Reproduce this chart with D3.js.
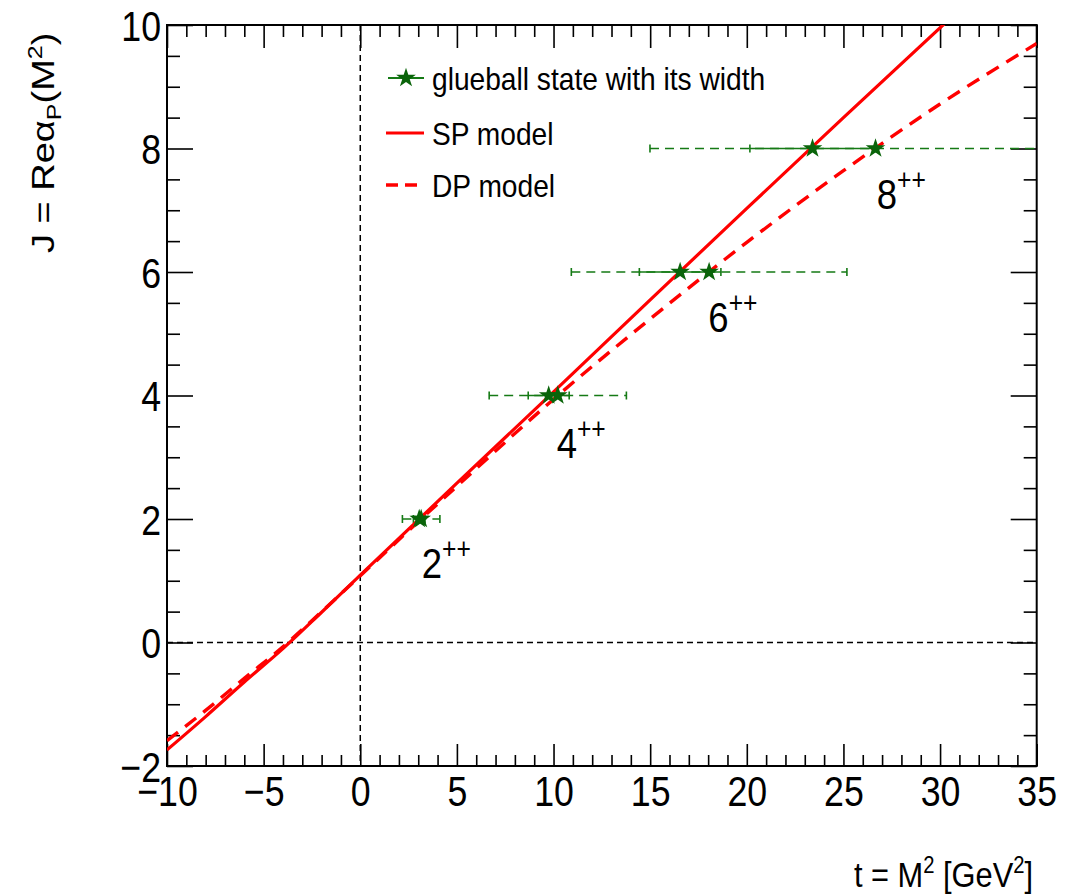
<!DOCTYPE html>
<html><head><meta charset="utf-8">
<script src="https://cdn.jsdelivr.net/npm/d3@7"></script>
<style>body{margin:0;background:#fff} text{font-family:"Liberation Sans",Arial,Helvetica,sans-serif;fill:#000}</style>
</head><body><svg id="c" width="1086" height="895"></svg>
<script>
// ---- data ----
const xMajor = [-10,-5,0,5,10,15,20,25,30,35];
const yMajor = [-2,0,2,4,6,8,10];
const spT = [-10,-8,-6,-4,-2,0,5,10,15,20,25,30.5];
const spJ = [-1.74,-1.2,-0.64,-0.1,0.49,1.09,2.58,4.06,5.55,7.03,8.5,10.1];
const dpT = [-10,-8,-6,-4,-2,0,3.15,5,10,15,20,25,30,35];
const dpJ = [-1.59,-1.1,-0.58,-0.07,0.5,1.08,2.0,2.53,3.94,5.24,6.48,7.64,8.72,9.7];
const states = ["2","4","6","8"];
const stateJ = [2,4,6,8];
const spStarT = [3.05,9.75,16.55,23.4];
const spHalfWidth = [0.3,1.06,2.11,3.24];
const dpStarT = [3.15,10.22,18.05,26.66];
const dpHalfWidth = [0.97,3.55,7.13,11.67];
const labelT = [3.18,10.16,18.01,26.72];
const labelJ = [1.04,2.99,5.03,7.02];

// ---- layout ----
const L=167, R=1036.7, T=25, B=766;
const svg = d3.select("#c");
const x = d3.scaleLinear([-10,35],[L,R]);
const y = d3.scaleLinear([-2,10],[B,T]);
const RED="#ff0000", GREEN="#157a15", STAR="#0a640a";
const SX=0.85;

svg.append("defs").append("clipPath").attr("id","clip")
  .append("rect").attr("x",L).attr("y",T).attr("width",R-L).attr("height",B-T);

// reference dashed lines
svg.append("line").attr("x1",x(0)).attr("x2",x(0)).attr("y1",T).attr("y2",B)
  .attr("stroke","#000").attr("stroke-width",1.5).attr("stroke-dasharray","6,4");
svg.append("line").attr("x1",L).attr("x2",R).attr("y1",y(0)).attr("y2",y(0))
  .attr("stroke","#000").attr("stroke-width",1.5).attr("stroke-dasharray","6,4");

// axes ticks
const xMinor = d3.range(-10,35.001,1).filter(v=>v%5!==0);
const yMinor = d3.range(-2,10.001,0.5).filter(v=>v%2!==0);
function styleAxis(g){ g.select(".domain").remove(); g.selectAll("line").attr("stroke","#000").attr("stroke-width",1.6); }

svg.append("g").attr("transform",`translate(0,${B})`)
  .call(d3.axisBottom(x).tickValues(xMinor).tickSizeInner(-11).tickSizeOuter(0).tickFormat("")).call(styleAxis);
const xa = svg.append("g").attr("transform",`translate(0,${B})`)
  .call(d3.axisBottom(x).tickValues(xMajor).tickSizeInner(-22).tickSizeOuter(0).tickPadding(10)).call(styleAxis);
xa.selectAll("text").attr("font-size",42).attr("font-family","Liberation Sans, Arial, sans-serif")
  .attr("transform",`scale(${SX},1)`);

svg.append("g").attr("transform",`translate(0,${T})`)
  .call(d3.axisTop(x).tickValues(xMinor).tickSizeInner(-12).tickSizeOuter(0).tickFormat("")).call(styleAxis);
svg.append("g").attr("transform",`translate(0,${T})`)
  .call(d3.axisTop(x).tickValues(xMajor).tickSizeInner(-23).tickSizeOuter(0).tickFormat("")).call(styleAxis);

svg.append("g").attr("transform",`translate(${L},0)`)
  .call(d3.axisLeft(y).tickValues(yMinor).tickSizeInner(-13).tickSizeOuter(0).tickFormat("")).call(styleAxis);
const ya = svg.append("g").attr("transform",`translate(${L},0)`)
  .call(d3.axisLeft(y).tickValues(yMajor).tickSizeInner(-26).tickSizeOuter(0).tickPadding(0)).call(styleAxis);
ya.selectAll("text").attr("font-size",42).attr("font-family","Liberation Sans, Arial, sans-serif")
  .attr("x",-6/SX).attr("dy","0.36em").attr("transform",`scale(${SX},1)`);

svg.append("g").attr("transform",`translate(${R},0)`)
  .call(d3.axisRight(y).tickValues(yMinor).tickSizeInner(-13).tickSizeOuter(0).tickFormat("")).call(styleAxis);
svg.append("g").attr("transform",`translate(${R},0)`)
  .call(d3.axisRight(y).tickValues(yMajor).tickSizeInner(-26).tickSizeOuter(0).tickFormat("")).call(styleAxis);

// frame
svg.append("rect").attr("x",L).attr("y",T).attr("width",R-L).attr("height",B-T)
  .attr("fill","none").attr("stroke","#000").attr("stroke-width",2);

const plot = svg.append("g").attr("clip-path","url(#clip)");

// error bars
function errBar(t, hw, j, dashed){
  const g = plot.append("g").attr("stroke",GREEN).attr("stroke-width",1.6);
  g.append("line").attr("x1",x(t-hw)).attr("x2",x(t+hw)).attr("y1",y(j)).attr("y2",y(j))
    .attr("stroke-dasharray",dashed?"9,6":null);
  [t-hw,t+hw].forEach(v=>g.append("line").attr("x1",x(v)).attr("x2",x(v)).attr("y1",y(j)-4).attr("y2",y(j)+4));
}
stateJ.forEach((j,i)=>{ errBar(dpStarT[i],dpHalfWidth[i],j,true); });
stateJ.forEach((j,i)=>{ errBar(spStarT[i],spHalfWidth[i],j,false); });

// model curves
const line = d3.line().x(d=>x(d[0])).y(d=>y(d[1])).curve(d3.curveMonotoneX);
plot.append("path").datum(dpT.map((t,i)=>[t,dpJ[i]])).attr("d",line)
  .attr("fill","none").attr("stroke",RED).attr("stroke-width",3.4).attr("stroke-dasharray","14,9");
plot.append("path").datum(spT.map((t,i)=>[t,spJ[i]])).attr("d",line)
  .attr("fill","none").attr("stroke",RED).attr("stroke-width",3.2);

// stars
const star = d3.symbol(d3.symbolStar, 120);
stateJ.forEach((j,i)=>{
  [spStarT[i],dpStarT[i]].forEach(t=>{
    plot.append("path").attr("d",star()).attr("transform",`translate(${x(t)},${y(j)})`).attr("fill",STAR);
  });
});

// state labels
states.forEach((s,i)=>{
  const tx = svg.append("text").attr("transform",`translate(${x(labelT[i])},${y(labelJ[i])}) scale(${SX},1)`)
    .attr("font-size",43);
  tx.append("tspan").text(s);
  tx.append("tspan").attr("font-size",29).attr("dy",-19).text("++");
});

// legend
const lg = svg.append("g");
lg.append("line").attr("x1",388).attr("x2",424).attr("y1",78).attr("y2",78).attr("stroke",GREEN).attr("stroke-width",2);
lg.append("path").attr("d",star()).attr("transform","translate(406,78)").attr("fill",STAR);
lg.append("line").attr("x1",386).attr("x2",424).attr("y1",133).attr("y2",133).attr("stroke",RED).attr("stroke-width",3.2);
lg.append("line").attr("x1",386).attr("x2",417).attr("y1",185).attr("y2",185).attr("stroke",RED).attr("stroke-width",3.4).attr("stroke-dasharray","12,7");
const legTexts = ["glueball state with its width","SP model","DP model"];
const legBase = [90,145,197];
legTexts.forEach((s,i)=>{
  lg.append("text").attr("transform",`translate(432,${legBase[i]}) scale(0.88,1)`).attr("font-size",32).text(s);
});

// axis titles
const xt = svg.append("text").attr("transform","translate(1033,887) scale(0.88,1)").attr("text-anchor","end").attr("font-size",35);
xt.append("tspan").text("t = M");
xt.append("tspan").attr("font-size",23).attr("dy",-14).text("2");
xt.append("tspan").attr("dy",14).text(" [GeV");
xt.append("tspan").attr("font-size",23).attr("dy",-14).text("2");
xt.append("tspan").attr("dy",14).text("]");

const yt = svg.append("text").attr("transform","translate(54,253) rotate(-90) scale(1,0.82)").attr("font-size",38);
yt.append("tspan").text("J = Reα");
yt.append("tspan").attr("font-size",25).attr("dy",9).text("P");
yt.append("tspan").attr("dy",-9).text("(M");
yt.append("tspan").attr("font-size",25).attr("dy",-15).text("2");
yt.append("tspan").attr("dy",15).text(")");
</script></body></html>
